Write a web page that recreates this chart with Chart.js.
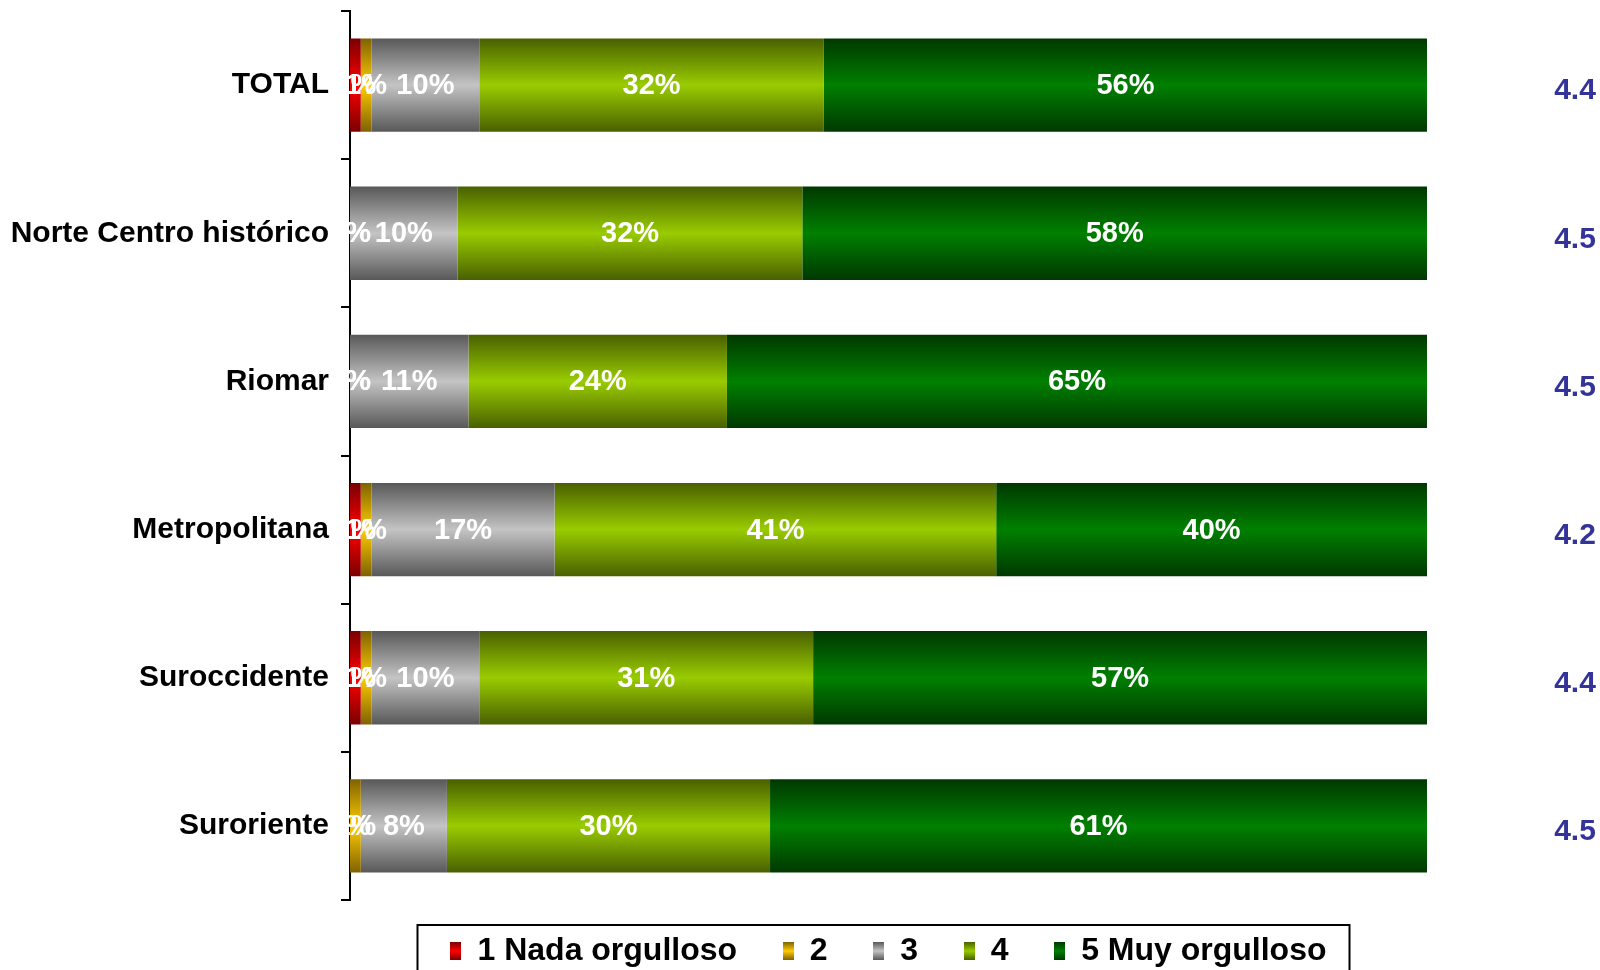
<!DOCTYPE html>
<html>
<head>
<meta charset="utf-8">
<script src="https://cdn.jsdelivr.net/npm/chart.js@4.4.0/dist/chart.umd.min.js"></script>
<style>
	html, body { margin: 0; padding: 0; background: #fff; }
	#wrap { width: 1600px; height: 970px; }
</style>
</head>
<body>
<div id="wrap"><canvas id="chart"></canvas></div>
<script>
const zonas = [ 'TOTAL', 'Norte Centro histórico', 'Riomar', 'Metropolitana', 'Suroccidente', 'Suroriente' ];

// percentages per answer, one array per scale point
const nada = [ 1, 0, 0, 1, 1, 0 ];
const dos = [ 1, 0, 0, 1, 1, 1 ];
const tres = [ 10, 10, 11, 17, 10, 8 ];
const cuatro = [ 32, 32, 24, 41, 31, 30 ];
const muy = [ 56, 58, 65, 40, 57, 61 ];

// average score shown at the right of each row
const promedios = [ '4.4', '4.5', '4.5', '4.2', '4.4', '4.5' ];

const FONT = "'Liberation Sans', Arial, sans-serif";
const BAR_PCT = 0.63;

// dark edge / bright middle for each series
const tonos = {
	nada: [ '#7a0000', '#ff0000' ],
	dos: [ '#7f6200', '#ffcc00' ],
	tres: [ '#585858', '#c4c4c4' ],
	cuatro: [ '#496000', '#99cc00' ],
	muy: [ '#003800', '#008000' ],
};

function barFill( stops ) {
	return ( ctx ) => {
		const y = ctx.chart.scales.y;
		if ( ! y || ctx.dataIndex === undefined ) return stops[ 1 ];
		const c = y.getPixelForValue( ctx.dataIndex );
		const half = ( y.getPixelForValue( 1 ) - y.getPixelForValue( 0 ) ) * BAR_PCT / 2;
		if ( ! isFinite( c ) || ! isFinite( half ) || half <= 0 ) return stops[ 1 ];
		const g = ctx.chart.ctx.createLinearGradient( 0, c - half, 0, c + half );
		g.addColorStop( 0, stops[ 0 ] );
		g.addColorStop( 0.5, stops[ 1 ] );
		g.addColorStop( 1, stops[ 0 ] );
		return g;
	};
}

// small shaded squares for the legend
function swatch( stops ) {
	const c = document.createElement( 'canvas' );
	c.width = 11;
	c.height = 18;
	const x = c.getContext( '2d' );
	const g = x.createLinearGradient( 0, 0, 0, 18 );
	g.addColorStop( 0, stops[ 0 ] );
	g.addColorStop( 0.5, stops[ 1 ] );
	g.addColorStop( 1, stops[ 0 ] );
	x.fillStyle = g;
	x.fillRect( 0, 0, 11, 18 );
	return c;
}

const series = [
	{ label: '1 Nada orgulloso', data: nada, tono: tonos.nada },
	{ label: '2', data: dos, tono: tonos.dos },
	{ label: '3', data: tres, tono: tonos.tres },
	{ label: '4', data: cuatro, tono: tonos.cuatro },
	{ label: '5 Muy orgulloso', data: muy, tono: tonos.muy },
];
const swatches = series.map( ( s ) => swatch( s.tono ) );

// white % labels centred on each segment
const segmentLabels = {
	id: 'segmentLabels',
	afterDatasetsDraw( chart ) {
		const ctx = chart.ctx;
		ctx.save();
		ctx.font = `bold 29px ${ FONT }`;
		ctx.fillStyle = '#fff';
		ctx.textAlign = 'center';
		ctx.textBaseline = 'middle';
		chart.data.datasets.forEach( ( ds, i ) => {
			chart.getDatasetMeta( i ).data.forEach( ( bar, j ) => {
				const x = ( bar.x + bar.base ) / 2;
				ctx.fillText( ds.data[ j ] + '%', x, bar.y + 1 );
			} );
		} );
		ctx.restore();
	},
};

// averages on the right and the frame round the legend
const extras = {
	id: 'extras',
	afterDraw( chart ) {
		const ctx = chart.ctx;
		const y = chart.scales.y;
		ctx.save();
		ctx.font = `bold 30px ${ FONT }`;
		ctx.fillStyle = '#333399';
		ctx.textAlign = 'center';
		ctx.textBaseline = 'middle';
		promedios.forEach( ( p, i ) => {
			ctx.fillText( p, chart.chartArea.right + 148, y.getPixelForValue( i ) + 6 );
		} );

		const boxes = chart.legend.legendHitBoxes;
		if ( boxes && boxes.length ) {
			const left = Math.min( ...boxes.map( ( b ) => b.left ) ) - 33;
			const right = Math.max( ...boxes.map( ( b ) => b.left + b.width ) ) + 23;
			const top = boxes[ 0 ].top - 10;
			ctx.strokeStyle = '#000';
			ctx.lineWidth = 2;
			ctx.strokeRect( left, top, right - left, 80 );
		}
		ctx.restore();
	},
};

new Chart( document.getElementById( 'chart' ), {
	type: 'bar',
	data: {
		labels: zonas,
		datasets: series.map( ( s ) => ( {
			label: s.label,
			data: s.data,
			backgroundColor: barFill( s.tono ),
			borderWidth: 0,
			barPercentage: BAR_PCT,
			categoryPercentage: 1,
		} ) ),
	},
	options: {
		indexAxis: 'y',
		responsive: true,
		maintainAspectRatio: false,
		animation: false,
		layout: {
			padding: { top: 11, right: 173, left: 0, bottom: -7 },
		},
		scales: {
			x: {
				stacked: true,
				display: false,
				min: 0,
				max: 100,
			},
			y: {
				stacked: true,
				afterFit: ( s ) => {
					s.width = 350;
					s.paddingTop = 0;
					s.paddingBottom = 0;
				},
				border: { display: true, color: '#000', width: 2 },
				grid: {
					display: true,
					drawOnChartArea: false,
					drawTicks: true,
					tickLength: 9,
					color: '#000',
					lineWidth: 2,
				},
				ticks: {
					color: '#000',
					padding: 12,
					font: { family: FONT, size: 30, weight: 'bold' },
				},
			},
		},
		plugins: {
			tooltip: { enabled: false },
			legend: {
				position: 'bottom',
				fullSize: false,
				labels: {
					usePointStyle: true,
					pointStyleWidth: 11,
					boxHeight: 18,
					padding: 35,
					color: '#000',
					font: { family: FONT, size: 32, weight: 'bold' },
					generateLabels: ( chart ) => Chart.defaults.plugins.legend.labels.generateLabels( chart ).map( ( l, i, all ) => ( {
						...l,
						pointStyle: swatches[ i ],
						// a narrow space widens the gap to the next entry
						text: i < all.length - 1 ? l.text + '\u2004' : l.text,
					} ) ),
				},
			},
		},
	},
	plugins: [ segmentLabels, extras ],
} );
</script>
</body>
</html>
